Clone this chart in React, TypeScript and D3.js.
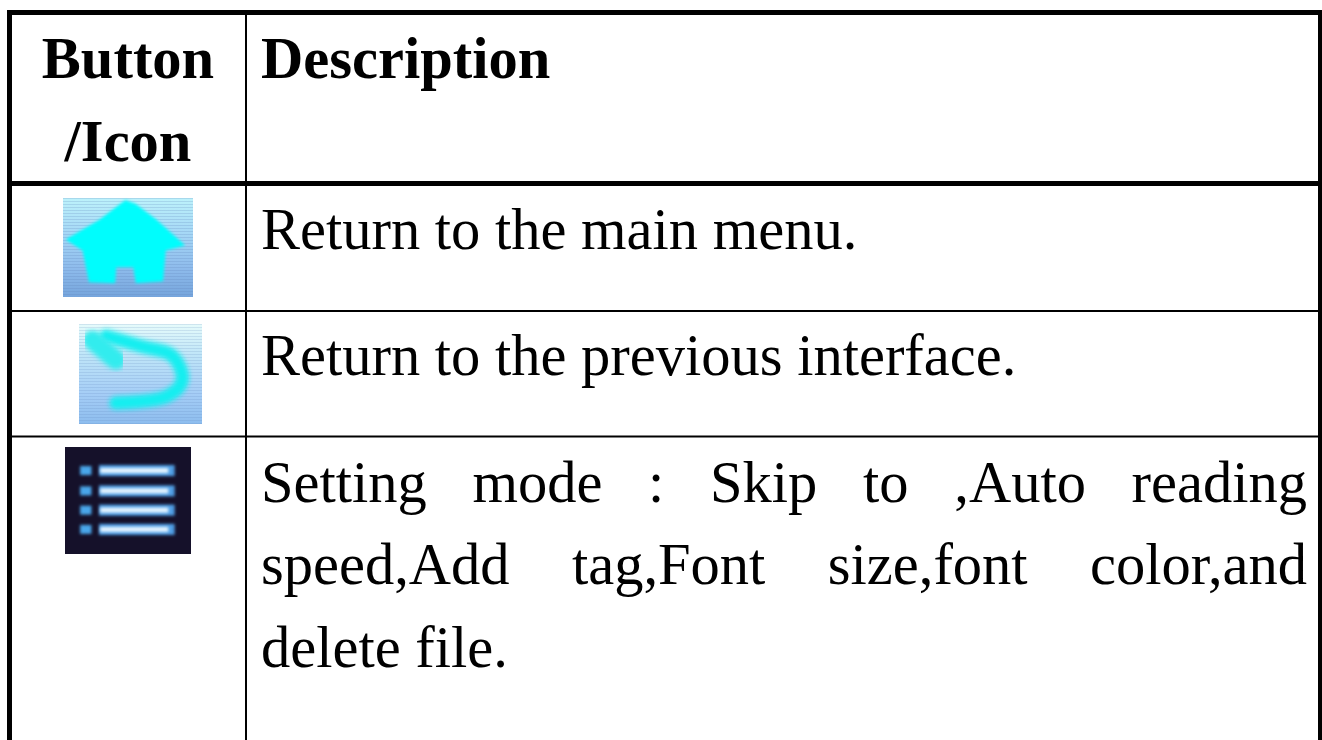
import React, { useEffect, useRef } from "react";
import * as d3 from "d3";

const headerButton = ["Button", "/Icon"];
const headerDescription = "Description";
const homeText = ["Return to the main menu."];
const backText = ["Return to the previous interface."];
const settingText = [
  "Setting mode : Skip to ,Auto reading",
  "speed,Add tag,Font size,font color,and",
  "delete file.",
];

const WIDTH = 1322;
const HEIGHT = 740;
const FONT = "'Liberation Serif', 'Times New Roman', serif";

// icon outlines in a 0-100 box, mapped on to each icon's rect with scales
const houseShape: [number, number][] = [
  [48, 2], [56, 6], [72, 22], [94, 48], [79, 53], [77, 84], [56, 86], [54, 70], [41, 70],
  [40, 86], [20, 85], [15, 53], [2, 42], [28, 22],
];
const backCurve: [number, number][] = [
  [22, 12], [50, 22], [76, 32], [84, 56], [72, 72], [30, 79],
];
const backHook: [number, number][] = [[11, 16], [30, 36]];
const menuRows = [22, 41, 59, 77];

const App = () => {
  const ref = useRef<SVGSVGElement | null>(null);

  useEffect(() => {
    const svg = d3.select(ref.current);
    svg.selectAll("*").remove();

    const defs = svg.append("defs");
    const blur = (id: string, s: number) =>
      defs.append("filter").attr("id", id)
        .attr("x", "-30%").attr("y", "-60%").attr("width", "160%").attr("height", "220%")
        .append("feGaussianBlur").attr("stdDeviation", s);
    blur("soft", 1.4);
    blur("softer", 2.6);

    const grad = (id: string, stops: [number, string][]) => {
      const g = defs.append("linearGradient").attr("id", id).attr("x1", 0).attr("x2", 0).attr("y1", 0).attr("y2", 1);
      stops.forEach(([o, c]) => g.append("stop").attr("offset", o).attr("stop-color", c));
    };
    grad("homeBg", [[0, "#bdf2fb"], [0.35, "#a6d8f6"], [0.7, "#8fbcec"], [1, "#76a5dc"]]);
    grad("backBg", [[0, "#e6fbfb"], [0.3, "#c0e6f8"], [0.7, "#a5cdf6"], [1, "#8dbdee"]]);

    const scan = defs.append("pattern").attr("id", "scan").attr("width", 3).attr("height", 3).attr("patternUnits", "userSpaceOnUse");
    scan.append("rect").attr("width", 3).attr("height", 1).attr("fill", "#5a7fb8").attr("opacity", 0.22);

    // table rules
    const rules = svg.append("g").attr("stroke", "#000");
    const hLine = (y: number, w: number) =>
      rules.append("line").attr("x1", 7).attr("x2", WIDTH).attr("y1", y).attr("y2", y).attr("stroke-width", w);
    const vLine = (x: number, w: number, y1 = 10) =>
      rules.append("line").attr("x1", x).attr("x2", x).attr("y1", y1).attr("y2", HEIGHT).attr("stroke-width", w);
    hLine(12.5, 5);
    hLine(183.5, 5);
    hLine(311, 2);
    hLine(436.5, 2);
    vLine(9.5, 5);
    vLine(1320, 4);
    vLine(246, 2);

    // text
    const addText = (x: number, y: number, s: string, bold: boolean, anchor = "start") =>
      svg.append("text")
        .attr("x", x).attr("y", y).text(s)
        .attr("font-family", FONT)
        .attr("font-size", 58.5)
        .attr("font-weight", bold ? "bold" : "normal")
        .attr("text-anchor", anchor)
        .attr("fill", "#000");

    headerButton.forEach((s, i) => addText(128, 77.5 + i * 83, s, true, "middle"));
    addText(261, 77.5, headerDescription, true);
    homeText.forEach((s) => addText(261, 249, s, false));
    backText.forEach((s) => addText(261, 375, s, false));

    settingText.forEach((s, i) => {
      const t = addText(261, 501.5 + i * 82.5, s, false);
      if (i < settingText.length - 1) {
        // justified lines: stretch the word gaps out to the cell edge
        const gaps = s.split(" ").length - 1;
        const len = (t.node() as SVGTextElement).getComputedTextLength();
        t.attr("word-spacing", (1307 - 261 - len) / gaps);
      }
    });

    const line = (x: d3.ScaleLinear<number, number>, y: d3.ScaleLinear<number, number>) =>
      d3.line<[number, number]>().x((d) => x(d[0])).y((d) => y(d[1]));

    // home icon
    const hx = d3.scaleLinear().domain([0, 100]).range([63, 193]);
    const hy = d3.scaleLinear().domain([0, 100]).range([198, 297]);
    svg.append("rect").attr("x", hx(0)).attr("y", hy(0)).attr("width", hx(100) - hx(0)).attr("height", hy(100) - hy(0)).attr("fill", "url(#homeBg)");
    svg.append("rect").attr("x", hx(0)).attr("y", hy(0)).attr("width", hx(100) - hx(0)).attr("height", hy(100) - hy(0)).attr("fill", "url(#scan)");
    svg.append("path")
      .attr("d", line(hx, hy).curve(d3.curveLinearClosed)(houseShape))
      .attr("fill", "#00fdfd")
      .attr("filter", "url(#soft)");

    // back icon
    const bx = d3.scaleLinear().domain([0, 100]).range([79, 202]);
    const by = d3.scaleLinear().domain([0, 100]).range([324, 424]);
    svg.append("rect").attr("x", bx(0)).attr("y", by(0)).attr("width", bx(100) - bx(0)).attr("height", by(100) - by(0)).attr("fill", "url(#backBg)");
    svg.append("rect").attr("x", bx(0)).attr("y", by(0)).attr("width", bx(100) - bx(0)).attr("height", by(100) - by(0)).attr("fill", "url(#scan)").attr("opacity", 0.8);
    svg.append("path")
      .attr("d", line(bx, by).curve(d3.curveCatmullRom)(backCurve))
      .attr("fill", "none").attr("stroke", "#14eef0").attr("stroke-width", 13).attr("stroke-linecap", "round")
      .attr("filter", "url(#softer)");
    svg.append("path")
      .attr("d", line(bx, by)(backHook))
      .attr("fill", "none").attr("stroke", "#30ecee").attr("stroke-width", 19).attr("stroke-linecap", "round")
      .attr("filter", "url(#softer)");

    // menu icon
    const mx = d3.scaleLinear().domain([0, 100]).range([65, 191]);
    const my = d3.scaleLinear().domain([0, 100]).range([447, 554]);
    svg.append("rect").attr("x", mx(0)).attr("y", my(0)).attr("width", mx(100) - mx(0)).attr("height", my(100) - my(0)).attr("fill", "#15112a");
    menuRows.forEach((r) => {
      // rects, a flat line has an empty box and a filter would drop it
      const bar = (a: number, b: number, color: string, h: number) =>
        svg.append("rect")
          .attr("x", mx(a)).attr("width", mx(b) - mx(a))
          .attr("y", my(r) - h / 2).attr("height", h)
          .attr("fill", color).attr("filter", "url(#soft)");
      bar(12, 21, "#4aa6ea", 9);
      bar(27, 87, "#4f9fe6", 11);
      bar(28, 82, "#e6f4ff", 5);
    });
  }, []);

  return (
    <svg
      ref={ref}
      width={WIDTH}
      height={HEIGHT}
      style={{ position: "absolute", left: 0, top: 0, display: "block", background: "#fff" }}
    />
  );
};

export default App;
